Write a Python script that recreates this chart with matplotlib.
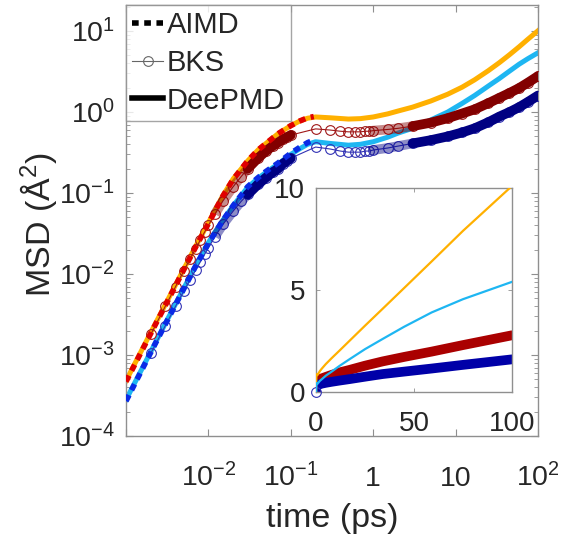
import matplotlib.pyplot as plt
import numpy as np
from matplotlib.lines import Line2D

plt.rcParams['font.family'] = 'Liberation Sans'
plt.rcParams['mathtext.fontset'] = 'custom'
plt.rcParams['mathtext.rm'] = 'Liberation Sans'
plt.rcParams['mathtext.it'] = 'Liberation Sans:italic'
plt.rcParams['mathtext.bf'] = 'Liberation Sans:bold'

# AIMD, short runs only (ps, A^2)
t_aimd = [0.001, 0.002, 0.003, 0.005, 0.007, 0.01, 0.015, 0.02, 0.03, 0.04,
          0.05, 0.07, 0.1, 0.13, 0.16, 0.19]
msd_aimd_hot = [4.7e-4, 1.85e-3, 4.1e-3, 1.12e-2, 2.15e-2, 4.2e-2, 9.2e-2, 0.148,
                0.25, 0.34, 0.41, 0.54, 0.68, 0.78, 0.85, 0.88]
msd_aimd_cold = [2.7e-4, 1.08e-3, 2.4e-3, 6.5e-3, 1.25e-2, 2.4e-2, 4.6e-2, 7.0e-2,
                 0.12, 0.155, 0.185, 0.235, 0.31, 0.37, 0.42, 0.45]

# DeePMD, short + long runs
t_dp = [0.001, 0.002, 0.003, 0.005, 0.007, 0.01, 0.015, 0.02, 0.03, 0.04, 0.05,
        0.07, 0.1, 0.13, 0.16, 0.2, 0.3, 0.5, 0.7, 1, 1.5, 2, 3, 5, 8, 12, 17,
        25, 34, 45, 59, 75, 100]
msd_dp_hot = [4.8e-4, 1.9e-3, 4.2e-3, 1.14e-2, 2.2e-2, 4.3e-2, 9.3e-2, 0.15, 0.25,
              0.34, 0.41, 0.54, 0.68, 0.78, 0.84, 0.87, 0.85, 0.82, 0.83, 0.87,
              0.95, 1.03, 1.15, 1.37, 1.66, 2.03, 2.5, 3.25, 4.08, 5.1, 6.4, 7.9,
              10.1]
msd_dp_cold = [2.8e-4, 1.1e-3, 2.45e-3, 6.6e-3, 1.27e-2, 2.45e-2, 4.6e-2, 7.0e-2,
               0.118, 0.152, 0.18, 0.228, 0.3, 0.355, 0.4, 0.43, 0.41, 0.39, 0.40,
               0.43, 0.49, 0.55, 0.63, 0.8, 1.0, 1.28, 1.6, 2.1, 2.6, 3.2, 3.9,
               4.55, 5.4]

# BKS, short + long runs
t_bks = [0, 0.002, 0.003, 0.004, 0.005, 0.006, 0.007, 0.008, 0.009, 0.01, 0.012,
         0.015, 0.02, 0.025, 0.03, 0.04, 0.05, 0.06, 0.07, 0.08, 0.09, 0.1, 0.2,
         0.3, 0.4, 0.5, 0.6, 0.7, 0.8, 0.9, 1.0, 1.5, 2, 3, 5, 8, 12, 17, 25, 34,
         45, 59, 75, 100]
msd_bks_hot = [0, 1.8e-3, 4.0e-3, 7.0e-3, 1.08e-2, 1.55e-2, 2.05e-2, 2.65e-2,
               3.3e-2, 4.0e-2, 5.5e-2, 8.0e-2, 0.12, 0.16, 0.2, 0.27, 0.33, 0.38,
               0.42, 0.46, 0.49, 0.52, 0.62, 0.60, 0.58, 0.57, 0.57, 0.57, 0.58,
               0.58, 0.59, 0.61, 0.63, 0.67, 0.74, 0.84, 0.96, 1.08, 1.29, 1.5,
               1.72, 1.98, 2.3, 2.78]
msd_bks_cold = [0, 1.05e-3, 2.3e-3, 4.0e-3, 6.1e-3, 8.5e-3, 1.12e-2, 1.42e-2,
                1.75e-2, 2.1e-2, 2.9e-2, 4.1e-2, 6.0e-2, 7.9e-2, 9.6e-2, 0.128,
                0.155, 0.18, 0.2, 0.23, 0.25, 0.27, 0.37, 0.35, 0.33, 0.32, 0.32,
                0.32, 0.33, 0.33, 0.34, 0.36, 0.38, 0.41, 0.45, 0.50, 0.56, 0.63,
                0.75, 0.88, 1.0, 1.15, 1.33, 1.6]

x_ticks = [1e-3, 1e-2, 1e-1, 1, 10, 100]
x_ticklabels = ['', '$10^{-2}$', '$10^{-1}$', '1', '10', '$10^{2}$']
y_ticks = [1e-4, 1e-3, 1e-2, 1e-1, 1, 10]
y_ticklabels = ['$10^{-4}$', '$10^{-3}$', '$10^{-2}$', '$10^{-1}$', '$10^{0}$', '$10^{1}$']

c_orange = '#FFB000'
c_cyan = '#1EB6F2'
c_dred = '#820000'
c_dblue = '#000082'
c_red = '#E00000'
c_blue = '#0A2AE6'
c_bks_red = '#A01818'
c_bks_blue = '#3232B4'
gray = '#8F8F8F'
txt = '#262626'

t_bks = np.array(t_bks)
bks_hot = np.array(msd_bks_hot)
bks_cold = np.array(msd_bks_cold)
pos = t_bks > 0
# where the BKS circles crowd together they read as a band
band_soft = [(t_bks >= 0.012) & (t_bks <= 0.03), (t_bks >= 0.9) & (t_bks <= 3)]
band_solid = [(t_bks >= 0.03) & (t_bks <= 0.1), t_bks >= 3]

fig = plt.figure(figsize=(5.73, 5.37), dpi=100)
ax = fig.add_axes([126 / 573, 1 - 436 / 537, 412 / 573, 431 / 537])
ax.set_xscale('log')
ax.set_yscale('log')

# DeePMD
ax.plot(t_dp, msd_dp_hot, color=c_orange, lw=3.6, zorder=2)
ax.plot(t_dp, msd_dp_cold, color=c_cyan, lw=3.6, zorder=2)

# BKS
for y, cline, cband in [(bks_hot, c_bks_red, c_dred), (bks_cold, c_bks_blue, c_dblue)]:
    ax.plot(t_bks[pos], y[pos], color=cline, lw=0.8, marker='o', ms=7,
            mfc='none', mec=cline, mew=0.8, zorder=3)
    for m in band_soft:
        ax.plot(t_bks[m], y[m], color=cband, lw=7, alpha=0.45,
                solid_capstyle='butt', zorder=3)
    for m in band_solid:
        ax.plot(t_bks[m], y[m], color=cband, lw=7, solid_capstyle='round', zorder=3)

# AIMD
ax.plot(t_aimd, msd_aimd_hot, color=c_red, lw=4, ls=(0, (1.2, 1.0)), zorder=4)
ax.plot(t_aimd, msd_aimd_cold, color=c_blue, lw=4, ls=(0, (1.2, 1.0)), zorder=4)

ax.set_xlim(1e-3, 100)
ax.set_ylim(1e-4, 21)
ax.set_xticks(x_ticks)
ax.set_xticklabels(x_ticklabels)
ax.set_yticks(y_ticks)
ax.set_yticklabels(y_ticklabels)
ax.tick_params(which='both', direction='in', top=True, right=True, color=gray,
               labelsize=20.5, labelcolor=txt)
ax.tick_params(which='major', length=5, width=0.8)
ax.tick_params(which='minor', length=3, width=0.6)
ax.tick_params(axis='x', pad=36)
ax.tick_params(axis='y', pad=8)
for lab in ax.get_xticklabels():
    lab.set_va('baseline')
for s in ax.spines.values():
    s.set_color(gray)
    s.set_linewidth(1.0)

ax.set_xlabel('time (ps)', fontsize=24.5, color=txt)
ax.set_ylabel('MSD (Å$^2$)', fontsize=24.5, color=txt)
ax.xaxis.set_label_coords(0.5, -0.156)
ax.yaxis.set_label_coords(-0.163, 0.49)

handles = [Line2D([], [], color='black', lw=4, ls=(0, (1.2, 1.0))),
           Line2D([], [], color='#666666', lw=0.8, marker='o', ms=7, mfc='none', mew=0.8),
           Line2D([], [], color='black', lw=4)]
leg = ax.legend(handles, ['AIMD', 'BKS', 'DeePMD'], loc='upper left', fontsize=21,
                frameon=True, fancybox=False, borderaxespad=0, borderpad=0.22,
                handlelength=1.05, handletextpad=0.12, labelspacing=0.33,
                labelcolor=txt)
leg.get_frame().set_edgecolor(gray)
leg.get_frame().set_linewidth(1.0)

# inset, linear scale
ins = fig.add_axes([316 / 573, 1 - 392 / 537, 196 / 573, 204 / 537])
ins.plot(t_bks, bks_hot, color='#AA0000', lw=7, solid_capstyle='round', zorder=2)
ins.plot(t_bks, bks_cold, color='#0000A8', lw=7, solid_capstyle='round', zorder=2)
ins.plot(t_bks[:1], bks_cold[:1], ls='none', marker='o', ms=7, mfc='none',
         mec=c_bks_blue, mew=0.8, zorder=3, clip_on=False)
ins.plot(t_dp, msd_dp_hot, color=c_orange, lw=1.6, zorder=3)
ins.plot(t_dp, msd_dp_cold, color=c_cyan, lw=1.6, zorder=3)
ins.set_xlim(0, 100)
ins.set_ylim(0, 10)
ins.set_xticks([0, 50, 100])
ins.set_yticks([0, 5, 10])
ins.tick_params(direction='in', top=True, right=True, length=3, width=0.6,
                color=gray, labelsize=20, labelcolor=txt)
ins.tick_params(axis='x', pad=14)
ins.tick_params(axis='y', pad=8)
for s in ins.spines.values():
    s.set_color(gray)
    s.set_linewidth(1.0)

fig.savefig('out.png', dpi=100)
